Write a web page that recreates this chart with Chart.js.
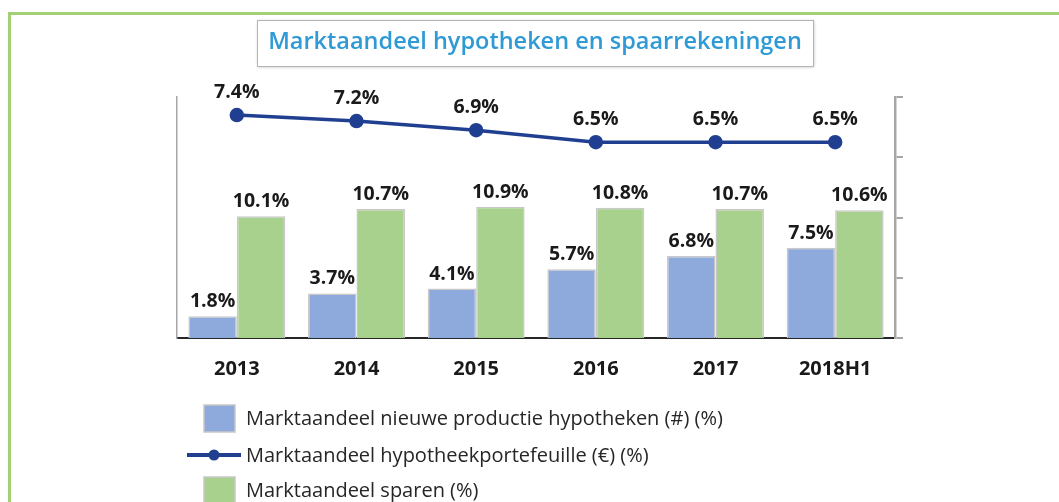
<!DOCTYPE html>
<html>
<head>
<meta charset="utf-8">
<script src="https://cdn.jsdelivr.net/npm/chart.js@4/dist/chart.umd.min.js"></script>
<style>
  body { margin: 0; background: #fff; }
  #wrap { width: 1059px; height: 502px; }
</style>
</head>
<body>
<div id="wrap"><canvas id="markt" width="1059" height="502"></canvas></div>
<script>
// waarden
var jaren = ['2013', '2014', '2015', '2016', '2017', '2018H1'];
var nieuweProductie = [1.8, 3.7, 4.1, 5.7, 6.8, 7.5];
var portefeuille = [7.4, 7.2, 6.9, 6.5, 6.5, 6.5];
var sparen = [10.1, 10.7, 10.9, 10.8, 10.7, 10.6];

var titel = 'Marktaandeel hypotheken en spaarrekeningen';
var legendaTeksten = [
  'Marktaandeel nieuwe productie hypotheken (#) (%)',
  'Marktaandeel hypotheekportefeuille (€) (%)',
  'Marktaandeel sparen (%)'
];

var blauw = '#8EA9DB', groen = '#A9D18E', lijnBlauw = '#203F91';
var fontNaam = '"Open Sans", "Noto Sans", sans-serif';

// kader, titel en legenda
var versiering = {
  id: 'versiering',
  beforeDraw: function(chart) {
    var ctx = chart.ctx;
    ctx.save();
    ctx.fillStyle = '#fff';
    ctx.fillRect(0, 0, chart.width, chart.height);
    // groen kader
    ctx.strokeStyle = '#A3CF75';
    ctx.lineWidth = 3;
    ctx.beginPath();
    ctx.moveTo(9.5, 510);
    ctx.lineTo(9.5, 13.5);
    ctx.lineTo(1070, 13.5);
    ctx.stroke();
    // titel in kader
    ctx.shadowColor = 'rgba(0,0,0,0.25)';
    ctx.shadowBlur = 3;
    ctx.shadowOffsetX = 1;
    ctx.shadowOffsetY = 1;
    ctx.fillStyle = '#fff';
    ctx.fillRect(257, 20, 556, 46);
    ctx.shadowColor = 'transparent';
    ctx.strokeStyle = '#B4B4B4';
    ctx.lineWidth = 1;
    ctx.strokeRect(257.5, 20.5, 556, 46);
    ctx.fillStyle = '#2F9AD5';
    ctx.font = '600 23.5px ' + fontNaam;
    ctx.textAlign = 'center';
    ctx.textBaseline = 'middle';
    ctx.fillText(titel, 535, 42);
    ctx.restore();
  },
  afterDraw: function(chart) {
    var ctx = chart.ctx;
    ctx.save();
    ctx.font = '20px ' + fontNaam;
    ctx.textBaseline = 'middle';
    ctx.textAlign = 'left';
    var rijen = [418, 455, 490];
    // balk nieuwe productie
    ctx.fillStyle = blauw;
    ctx.strokeStyle = '#C8C8C8';
    ctx.lineWidth = 1.5;
    ctx.fillRect(204, rijen[0] - 13, 31, 27);
    ctx.strokeRect(204, rijen[0] - 13, 31, 27);
    // lijn portefeuille
    ctx.strokeStyle = lijnBlauw;
    ctx.lineWidth = 4;
    ctx.beginPath();
    ctx.moveTo(187, rijen[1]);
    ctx.lineTo(241, rijen[1]);
    ctx.stroke();
    ctx.fillStyle = lijnBlauw;
    ctx.beginPath();
    ctx.arc(214, rijen[1], 5.5, 0, Math.PI * 2);
    ctx.fill();
    // balk sparen
    ctx.fillStyle = groen;
    ctx.strokeStyle = '#C8C8C8';
    ctx.lineWidth = 1.5;
    ctx.fillRect(204, rijen[2] - 13, 31, 27);
    ctx.strokeRect(204, rijen[2] - 13, 31, 27);
    ctx.fillStyle = '#262626';
    for (var i = 0; i < legendaTeksten.length; i++) {
      ctx.fillText(legendaTeksten[i], 246, rijen[i] + 1);
    }
    ctx.restore();
  }
};

// percentages boven balken en punten
var labels = {
  id: 'labels',
  afterDatasetsDraw: function(chart) {
    var ctx = chart.ctx;
    ctx.save();
    ctx.font = 'bold 19.5px ' + fontNaam;
    ctx.fillStyle = '#1A1A1A';
    ctx.textAlign = 'center';
    ctx.textBaseline = 'alphabetic';
    chart.data.datasets.forEach(function(ds, i) {
      var meta = chart.getDatasetMeta(i);
      meta.data.forEach(function(el, j) {
        var afstand = ds.type === 'line' ? 17 : 9;
        ctx.fillText(ds.data[j].toFixed(1) + '%', el.x, el.y - afstand);
      });
    });
    ctx.restore();
  }
};

new Chart('markt', {
  type: 'bar',
  data: {
    labels: jaren,
    datasets: [
      {
        label: legendaTeksten[1],
        type: 'line',
        data: portefeuille,
        yAxisID: 'rechts',
        borderColor: lijnBlauw,
        backgroundColor: lijnBlauw,
        borderWidth: 3.5,
        pointRadius: 5.5,
        pointHoverRadius: 5.5,
        tension: 0,
        order: 0
      },
      {
        label: legendaTeksten[0],
        data: nieuweProductie,
        yAxisID: 'links',
        backgroundColor: blauw,
        borderColor: '#C8C8C8',
        borderWidth: 1.5,
        order: 1
      },
      {
        label: legendaTeksten[2],
        data: sparen,
        yAxisID: 'links',
        backgroundColor: groen,
        borderColor: '#C8C8C8',
        borderWidth: 1.5,
        order: 1
      }
    ]
  },
  options: {
    responsive: false,
    animation: false,
    events: [],
    layout: { padding: { top: 97, left: 177, right: 156, bottom: 102 } },
    datasets: { bar: { categoryPercentage: 0.81, barPercentage: 1.0 } },
    plugins: { legend: { display: false }, tooltip: { enabled: false } },
    scales: {
      x: {
        grid: { display: false, drawTicks: false },
        border: { display: true, color: '#262626', width: 2 },
        ticks: { color: '#1A1A1A', padding: 19, font: { family: fontNaam, size: 20, weight: 'bold' } }
      },
      links: {
        type: 'linear',
        position: 'left',
        min: 0, max: 20,
        grid: { display: false, drawTicks: false },
        border: { display: true, color: '#A6A6A6', width: 1.5 },
        ticks: { display: false, stepSize: 5 }
      },
      rechts: {
        type: 'linear',
        position: 'right',
        min: 0, max: 8,
        grid: { drawOnChartArea: false, drawTicks: true, tickLength: 8, color: '#A6A6A6', lineWidth: 2 },
        border: { display: true, color: '#A6A6A6', width: 2.5 },
        ticks: { display: false, stepSize: 2 }
      }
    }
  },
  plugins: [versiering, labels]
});
</script>
</body>
</html>
